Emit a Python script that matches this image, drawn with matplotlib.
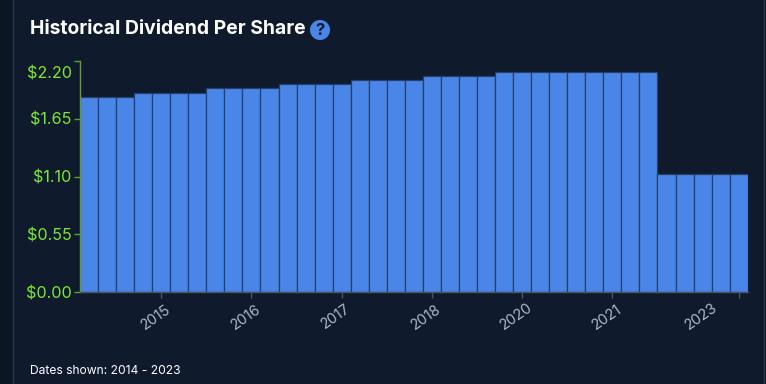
import matplotlib
matplotlib.use("Agg")
import matplotlib.pyplot as plt
from matplotlib.patches import FancyBboxPatch, Circle
from matplotlib.transforms import Affine2D

dividends = [1.86, 1.86, 1.86,
             1.90, 1.90, 1.90, 1.90,
             1.94, 1.94, 1.94, 1.94,
             1.98, 1.98, 1.98, 1.98,
             2.02, 2.02, 2.02, 2.02,
             2.06, 2.06, 2.06, 2.06,
             2.10, 2.10, 2.10, 2.10, 2.10, 2.10, 2.10, 2.10, 2.10,
             1.12, 1.12, 1.12, 1.12, 1.12]
y_ticks = [0, 0.55, 1.10, 1.65, 2.20]
y_labels = ["$0.00", "$0.55", "$1.10", "$1.65", "$2.20"]
x_tick_bars = [4, 9, 14, 19, 24, 29, 36]
x_labels = ["2015", "2016", "2017", "2018", "2020", "2021", "2023"]

W, H = 766, 384
PAGE = "#0c1522"
CARD = "#0f1a2c"
plt.rcParams['font.family'] = ['Inter', 'DejaVu Sans']
plt.rcParams['text.parse_math'] = False

fig = plt.figure(figsize=(W / 100, H / 100), dpi=100, facecolor=PAGE)
bg = fig.add_axes([0, 0, 1, 1], zorder=0)
bg.set_xlim(0, W); bg.set_ylim(H, 0); bg.axis("off")
bg.add_patch(FancyBboxPatch((13.5, -30), 751, 460,
                            boxstyle="round,pad=0,rounding_size=16",
                            fc=CARD, ec="#2a3648", lw=1))

bg.text(30, 29.5, "Historical Dividend Per Share", color="white", fontsize=13.9,
        fontweight="bold", va="center", ha="left")
bg.add_patch(Circle((320, 30), 10, fc="#4a86e8", ec="none"))
bg.text(320, 30.5, "?", color="#0f1a2c", fontsize=12, fontweight="bold",
        va="center", ha="center")
bg.text(30, 371, "Dates shown: 2014 - 2023", color="white", fontsize=8.7,
        va="center", ha="left")

ax = fig.add_axes([80 / W, 1 - 292 / H, (747.7 - 80) / W, 231 / H], zorder=1)
ax.patch.set_alpha(0)
ax.bar(range(len(dividends)), dividends, width=1, color="#4a86e8",
       edgecolor="#233f72", linewidth=0.9, zorder=2)
ax.set_xlim(-0.5, len(dividends) - 0.5)
ax.set_ylim(0, 2.2)

for s in ("top", "right"):
    ax.spines[s].set_visible(False)
ax.spines["left"].set_color("#5f9e2f")
ax.spines["left"].set_linewidth(1)
ax.spines["left"].set_zorder(3)
ax.spines["bottom"].set_color("#4a5568")
ax.spines["bottom"].set_linewidth(1)
ax.spines["bottom"].set_zorder(3)

ax.set_yticks(y_ticks, y_labels)
ax.tick_params(axis="y", length=4, width=1, color="#5f9e2f",
               labelcolor="#7ee63a", labelsize=11.7, pad=2)
top_label = ax.get_yticklabels()[-1]
top_label.set_transform(top_label.get_transform() + Affine2D().translate(0, -11.5))

ax.set_xticks(x_tick_bars, x_labels)
ax.tick_params(axis="x", length=4, width=1, color="#4a5568",
               labelcolor="#adb9c9", labelsize=10.5, pad=8)
for t, label in zip(ax.get_xticklabels(), x_labels):
    t.set_rotation(35)
    t.set_ha("center")
    t.set_va("center")
    t.set_rotation_mode("anchor")
    t.set_y(-0.055)
    dx = -37 if label == "2023" else -5.5
    t.set_transform(t.get_transform() + Affine2D().translate(dx, 4.5))

fig.savefig("out.png", dpi=100, facecolor=fig.get_facecolor())
